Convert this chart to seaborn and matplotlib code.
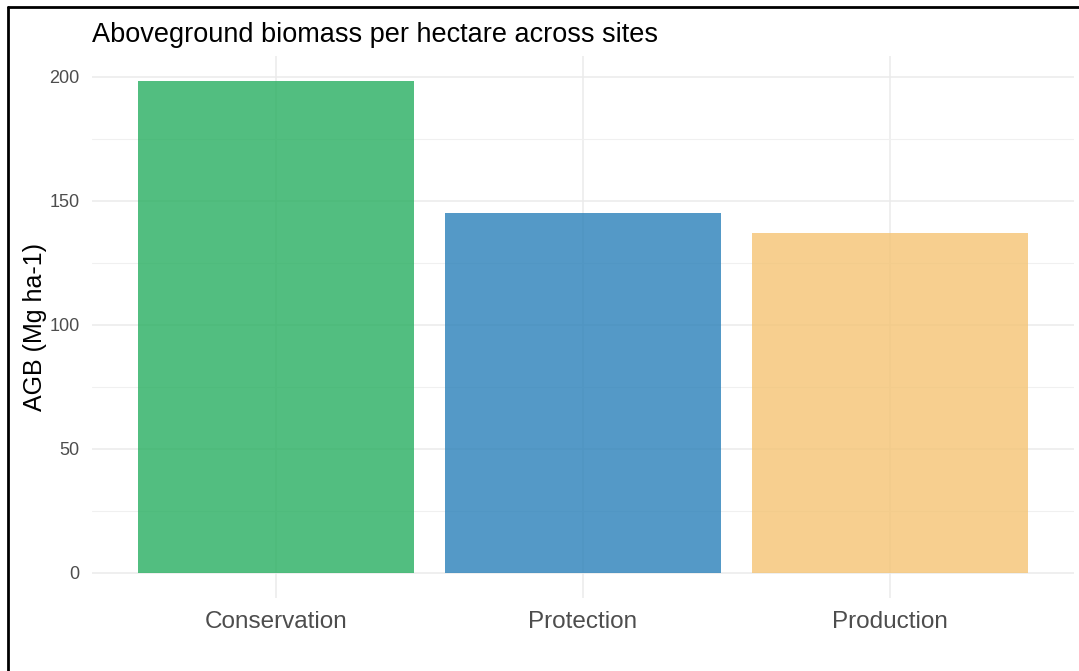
import numpy as np
import pandas as pd
import matplotlib.pyplot as plt
import seaborn as sns
from matplotlib.lines import Line2D
from matplotlib.ticker import MultipleLocator

# data
sites = ['Conservation', 'Protection', 'Production']
agb = [198.3, 145.0, 137.2]
bar_colors = ['#27AE60', '#2980B9', '#F5C473']

df = pd.DataFrame({'Site': sites, 'AGB': agb})

sns.set_theme(style='white')
plt.rcParams['font.family'] = ['Liberation Sans', 'DejaVu Sans']

fig = plt.figure(figsize=(10.79, 6.71), dpi=100)
ax = fig.add_axes([0.0853, 0.1094, 0.9101, 0.8066])

sns.barplot(data=df, x='Site', y='AGB', hue='Site', palette=bar_colors,
            order=sites, hue_order=sites, width=0.9, alpha=0.8,
            saturation=1, legend=False, ax=ax, zorder=3)
for p in ax.patches:
    p.set_linewidth(0)

# ggplot-like expansion
ymax = max(agb)
ax.set_ylim(-0.05 * ymax, 1.05 * ymax)
ax.set_xlim(-0.6, len(sites) - 0.4)

ax.yaxis.set_major_locator(MultipleLocator(50))
ax.yaxis.set_minor_locator(MultipleLocator(25))
ax.grid(which='major', color='#EBEBEB', linewidth=1.1, zorder=0)
ax.grid(which='minor', axis='y', color='#F0F0F0', linewidth=0.8, zorder=0)
ax.set_axisbelow(True)
for s in ax.spines.values():
    s.set_visible(False)

ax.tick_params(axis='both', which='both', length=0)
ax.tick_params(axis='y', labelsize=13, labelcolor='#4D4D4D', pad=9)
ax.tick_params(axis='x', labelsize=17.5, labelcolor='#4D4D4D', pad=10)

ax.set_xlabel('')
ax.set_ylabel('AGB (Mg ha-1)', fontsize=18, color='black', labelpad=1.5)
ax.set_title('Aboveground biomass per hectare across sites', loc='left',
             fontsize=19.5, color='black', pad=10)

# frame lines along top and left of the image
fig.add_artist(Line2D([0.0074, 1.0], [0.9896, 0.9896], color='black', lw=2,
                      transform=fig.transFigure))
fig.add_artist(Line2D([0.0074, 0.0074], [0.0, 0.9896], color='black', lw=2,
                      transform=fig.transFigure))

fig.savefig('out.png', dpi=100)
